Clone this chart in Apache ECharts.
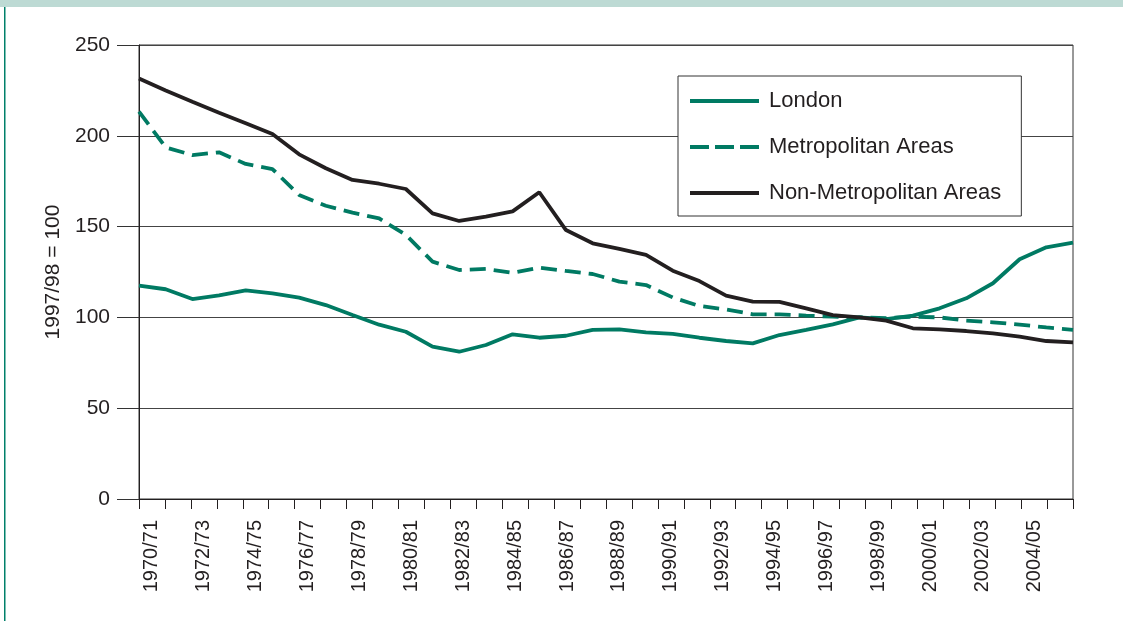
<!DOCTYPE html>
<html>
<head>
<meta charset="utf-8">
<script src="https://cdn.jsdelivr.net/npm/echarts@6/dist/echarts.min.js"></script>
<style>
  html, body { margin: 0; padding: 0; background: #fff; }
  #chart { width: 1123px; height: 621px; }
</style>
</head>
<body>
<div id="chart"></div>
<script>
var years = ['1970/71','1971/72','1972/73','1973/74','1974/75','1975/76','1976/77','1977/78','1978/79','1979/80',
    '1980/81','1981/82','1982/83','1983/84','1984/85','1985/86','1986/87','1987/88','1988/89','1989/90',
    '1990/91','1991/92','1992/93','1993/94','1994/95','1995/96','1996/97','1997/98','1998/99','1999/00',
    '2000/01','2001/02','2002/03','2003/04','2004/05','2005/06'];
var london = [117.5,115.5,110.1,112.1,114.9,113.2,110.9,106.8,101.3,96.0,
    92.1,83.9,81.1,84.8,90.7,88.8,89.9,93.1,93.4,91.8,
    90.9,88.8,87.0,85.7,90.3,93.1,96.2,100,99.1,101.0,
    105.0,110.5,118.8,132.0,138.6,141.2];
var metro = [213.3,193.6,189.4,190.9,184.5,181.7,167.4,161.5,157.7,154.5,
    145.4,130.7,126.1,126.7,124.6,127.4,125.6,123.9,119.7,117.8,
    111.0,106.3,104.4,101.7,101.7,101.0,100.4,100,99.6,100.4,
    100.0,98.2,97.3,96.0,94.5,93.1];
var nonMetro = [231.6,225.0,218.8,212.7,206.9,201.0,189.8,182.1,175.7,173.6,
    170.7,157.3,153.1,155.5,158.4,168.9,148.1,140.8,137.7,134.4,
    125.7,120.0,112.0,108.7,108.5,105.0,101.3,100,98.2,94.0,
    93.4,92.5,91.2,89.4,87.0,86.3];
var legendNames = ['London', 'Metropolitan Areas', 'Non-Metropolitan Areas'];

var teal = '#007a63';
var ink = '#231f20';
var font = 'Liberation Sans, Arial, Helvetica, sans-serif';

var chart = echarts.init(document.getElementById('chart'));
var option = {
    backgroundColor: '#fff',
    animation: false,
    textStyle: { fontFamily: font, color: ink },
    graphic: [
        { type: 'rect', shape: { x: 0, y: 0, width: 1123, height: 7 }, style: { fill: '#bddad4' } },
        { type: 'rect', shape: { x: 4, y: 7, width: 1.5, height: 614 }, style: { fill: '#00806a' } }
    ],
    grid: {
        left: 139, right: 50, top: 45, bottom: 122,
        show: true, borderColor: '#333', borderWidth: 1
    },
    legend: {
        data: [
            { name: legendNames[0] },
            { name: legendNames[1], lineStyle: { type: [19, 6] } },
            { name: legendNames[2] }
        ],
        orient: 'vertical',
        left: 678, top: 76,
        itemWidth: 69, itemHeight: 20, itemGap: 24,
        padding: [14, 20, 12, 10],
        backgroundColor: '#fff',
        borderColor: '#333', borderWidth: 1,
        itemStyle: { opacity: 0 },   // hide the marker, keep the line
        lineStyle: { width: 4 },
        textStyle: { fontSize: 22, color: ink, fontFamily: font, padding: [0, 0, 0, 5] }
    },
    xAxis: [
        {
            // data axis: points run from first to last tick
            type: 'category',
            data: years,
            boundaryGap: false,
            show: false
        },
        {
            // label axis: ticks at band edges, labels at band centres
            type: 'category',
            data: years,
            boundaryGap: true,
            position: 'bottom',
            axisLine: { lineStyle: { color: ink, width: 1 } },
            axisTick: { show: true, interval: 0, length: 10, lineStyle: { color: ink } },
            axisLabel: { interval: 1, rotate: 90, margin: 21, fontSize: 20, color: ink, fontFamily: font },
            splitLine: { show: false }
        }
    ],
    yAxis: {
        type: 'value',
        min: 0, max: 250, interval: 50,
        name: '1997/98 = 100',
        nameLocation: 'middle',
        nameGap: 73,
        nameTextStyle: { fontSize: 21, color: ink, fontFamily: font },
        axisLine: { show: true, lineStyle: { color: ink, width: 1 } },
        axisTick: { show: true, length: 22, lineStyle: { color: '#333' } },
        axisLabel: { margin: 29, fontSize: 21, color: ink, fontFamily: font },
        splitLine: { lineStyle: { color: '#444', width: 1 } }
    },
    series: [
        {
            name: legendNames[0], type: 'line', xAxisIndex: 0, data: london,
            symbol: 'none', color: teal,
            lineStyle: { color: teal, width: 3.8 }
        },
        {
            name: legendNames[1], type: 'line', xAxisIndex: 0, data: metro,
            symbol: 'none', color: teal,
            lineStyle: { color: teal, width: 3.8, type: [16, 8] }
        },
        {
            name: legendNames[2], type: 'line', xAxisIndex: 0, data: nonMetro,
            symbol: 'none', color: ink,
            lineStyle: { color: ink, width: 3.8 }
        }
    ]
};
chart.setOption(option);
window.onresize = chart.resize;
</script>
</body>
</html>
